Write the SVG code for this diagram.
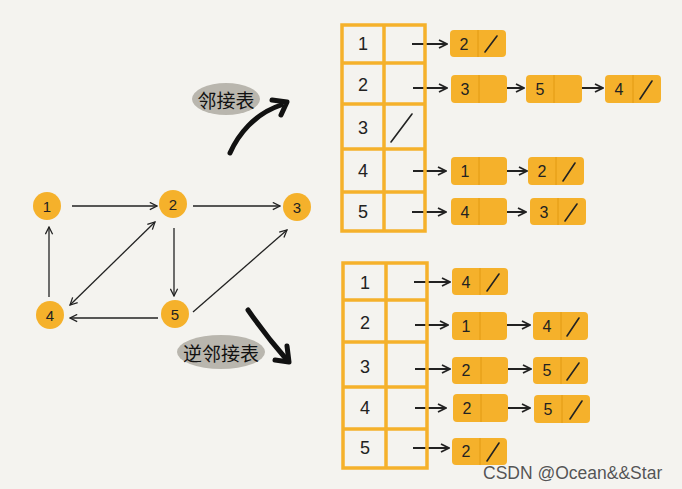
<svg xmlns="http://www.w3.org/2000/svg" width="682" height="489" viewBox="0 0 682 489">
<style>
.bg{fill:#f4f3ef}
.gn{fill:#f5b12b}
.gt{font-family:"Liberation Sans",Arial,sans-serif;font-size:15px;fill:#222;text-anchor:middle;dominant-baseline:central}
.e{stroke:#222;stroke-width:1.3;fill:none}
.tbl{fill:none;stroke:#f5b12b;stroke-width:3.5}
.tt{font-family:"Liberation Sans",Arial,sans-serif;font-size:18px;fill:#222;text-anchor:middle;dominant-baseline:central}
.ln{fill:#f5b12b}
.dv{stroke:#e29a12;stroke-width:1}
.lt{font-family:"Liberation Sans",Arial,sans-serif;font-size:16px;fill:#222;text-anchor:middle;dominant-baseline:central}
.sl{stroke:#222;stroke-width:1.6;fill:none;stroke-linecap:round}
.la{stroke:#222;stroke-width:2;fill:none}
.blob{fill:#b9b6ae}
.cn{font-family:"Noto Sans CJK SC",sans-serif;font-size:19px;fill:#111;text-anchor:middle;dominant-baseline:central}
.big{stroke:#111;stroke-width:5;fill:none;stroke-linecap:round;stroke-linejoin:round}
.wm{font-family:"Liberation Sans",Arial,sans-serif;font-size:17.5px;fill:#555;stroke:#fff;stroke-width:0.4;paint-order:stroke}
</style>
<defs>
<marker id="ah" viewBox="0 0 10 10" refX="9" refY="5" markerWidth="9" markerHeight="9" markerUnits="userSpaceOnUse" orient="auto-start-reverse">
<path d="M1,1 L9,5 L1,9" fill="none" stroke="#222" stroke-width="1.4"/>
</marker>
<marker id="ah2" viewBox="0 0 10 10" refX="9" refY="5" markerWidth="10" markerHeight="10" markerUnits="userSpaceOnUse" orient="auto">
<path d="M1,1 L9,5 L1,9" fill="none" stroke="#222" stroke-width="1.8"/>
</marker>
</defs>
<rect class="bg" x="0" y="0" width="682" height="489"/>

<g id="connectors">
<line class="e" x1="72" y1="206" x2="157" y2="206" marker-end="url(#ah)"/>
<line class="e" x1="193" y1="206" x2="280" y2="206" marker-end="url(#ah)"/>
<line class="e" x1="174" y1="228" x2="174" y2="296" marker-end="url(#ah)"/>
<line class="e" x1="49" y1="297" x2="49" y2="227" marker-end="url(#ah)"/>
<line class="e" x1="70" y1="305" x2="155" y2="222" marker-start="url(#ah)" marker-end="url(#ah)"/>
<line class="e" x1="193" y1="312" x2="287" y2="230" marker-end="url(#ah)"/>
<line class="e" x1="158" y1="318" x2="70" y2="318" marker-end="url(#ah)"/>
<!-- top list arrows -->
<line class="la" x1="412" y1="44" x2="447" y2="44" marker-end="url(#ah2)"/>
<line class="la" x1="413" y1="88" x2="447" y2="88" marker-end="url(#ah2)"/>
<line class="la" x1="498" y1="88" x2="524" y2="88" marker-end="url(#ah2)"/>
<line class="la" x1="573" y1="88" x2="603" y2="88" marker-end="url(#ah2)"/>
<line class="la" x1="413" y1="171" x2="446" y2="171" marker-end="url(#ah2)"/>
<line class="la" x1="500" y1="171" x2="527" y2="171" marker-end="url(#ah2)"/>
<line class="la" x1="412" y1="212" x2="446" y2="212" marker-end="url(#ah2)"/>
<line class="la" x1="500" y1="212" x2="526" y2="212" marker-end="url(#ah2)"/>
<!-- bottom list arrows -->
<line class="la" x1="414" y1="282" x2="450" y2="282" marker-end="url(#ah2)"/>
<line class="la" x1="415" y1="325" x2="448" y2="325" marker-end="url(#ah2)"/>
<line class="la" x1="502" y1="325" x2="530" y2="325" marker-end="url(#ah2)"/>
<line class="la" x1="415" y1="369" x2="450" y2="369" marker-end="url(#ah2)"/>
<line class="la" x1="502" y1="369" x2="531" y2="369" marker-end="url(#ah2)"/>
<line class="la" x1="415" y1="408" x2="446" y2="408" marker-end="url(#ah2)"/>
<line class="la" x1="502" y1="408" x2="530" y2="408" marker-end="url(#ah2)"/>
<line class="la" x1="413" y1="448" x2="449" y2="448" marker-end="url(#ah2)"/>
<!-- big arrows -->
<path class="big" d="M230,153 C238,135 254,114 281,105"/>
<path class="big" d="M272,100 L287,102 L281,115"/>
<path class="big" d="M248,310 C262,330 274,345 287,360"/>
<path class="big" d="M287,346 L289,362 L275,360"/>
</g>

<g id="g1"><circle class="gn" cx="47" cy="206" r="14"/><text class="gt" x="47" y="206">1</text></g>
<g id="g2"><circle class="gn" cx="173" cy="204" r="14"/><text class="gt" x="173" y="204">2</text></g>
<g id="g3"><circle class="gn" cx="297" cy="207" r="14"/><text class="gt" x="297" y="207">3</text></g>
<g id="g4"><circle class="gn" cx="50" cy="315" r="14"/><text class="gt" x="50" y="315">4</text></g>
<g id="g5"><circle class="gn" cx="175" cy="314" r="14"/><text class="gt" x="175" y="314">5</text></g>

<g id="label-adj"><ellipse class="blob" cx="226" cy="99" rx="34" ry="16"/><text class="cn" x="226" y="99">邻接表</text></g>
<g id="label-inv"><ellipse class="blob" cx="221" cy="352" rx="44" ry="17"/><text class="cn" x="221" y="352">逆邻接表</text></g>

<g id="table-adj">
<rect class="tbl" x="342" y="25" width="83" height="206"/>
<line class="tbl" x1="384" y1="25" x2="384" y2="231"/>
<line class="tbl" x1="342" y1="63" x2="425" y2="63"/>
<line class="tbl" x1="342" y1="104" x2="425" y2="104"/>
<line class="tbl" x1="342" y1="149" x2="425" y2="149"/>
<line class="tbl" x1="342" y1="192" x2="425" y2="192"/>
<text class="tt" x="363" y="44">1</text>
<text class="tt" x="363" y="85">2</text>
<text class="tt" x="363" y="128">3</text>
<text class="tt" x="363" y="171">4</text>
<text class="tt" x="363" y="212">5</text>
<line class="sl" x1="391" y1="142" x2="412" y2="114"/>
</g>

<g id="adj-1-2"><rect class="ln" x="450" y="30" width="56" height="27" rx="4"/><line class="dv" x1="478" y1="30" x2="478" y2="57"/><text class="lt" x="464" y="44">2</text><line class="sl" x1="485" y1="52" x2="497" y2="36"/></g>
<g id="adj-2-3"><rect class="ln" x="451" y="75" width="56" height="28" rx="4"/><line class="dv" x1="479" y1="75" x2="479" y2="103"/><text class="lt" x="465" y="89">3</text></g>
<g id="adj-2-5"><rect class="ln" x="526" y="75" width="56" height="28" rx="4"/><line class="dv" x1="554" y1="75" x2="554" y2="103"/><text class="lt" x="540" y="89">5</text></g>
<g id="adj-2-4"><rect class="ln" x="605" y="75" width="56" height="28" rx="4"/><line class="dv" x1="633" y1="75" x2="633" y2="103"/><text class="lt" x="619" y="89">4</text><line class="sl" x1="640" y1="99" x2="652" y2="81"/></g>
<g id="adj-4-1"><rect class="ln" x="451" y="157" width="56" height="28" rx="4"/><line class="dv" x1="479" y1="157" x2="479" y2="185"/><text class="lt" x="465" y="171">1</text></g>
<g id="adj-4-2"><rect class="ln" x="528" y="157" width="56" height="28" rx="4"/><line class="dv" x1="556" y1="157" x2="556" y2="185"/><text class="lt" x="542" y="171">2</text><line class="sl" x1="563" y1="181" x2="575" y2="163"/></g>
<g id="adj-5-4"><rect class="ln" x="451" y="198" width="56" height="27" rx="4"/><line class="dv" x1="479" y1="198" x2="479" y2="225"/><text class="lt" x="465" y="212">4</text></g>
<g id="adj-5-3"><rect class="ln" x="530" y="198" width="56" height="27" rx="4"/><line class="dv" x1="558" y1="198" x2="558" y2="225"/><text class="lt" x="544" y="212">3</text><line class="sl" x1="565" y1="221" x2="577" y2="204"/></g>

<g id="table-inv">
<rect class="tbl" x="343" y="263" width="84" height="205"/>
<line class="tbl" x1="386" y1="263" x2="386" y2="468"/>
<line class="tbl" x1="343" y1="300" x2="427" y2="300"/>
<line class="tbl" x1="343" y1="342" x2="427" y2="342"/>
<line class="tbl" x1="343" y1="387" x2="427" y2="387"/>
<line class="tbl" x1="343" y1="429" x2="427" y2="429"/>
<text class="tt" x="365" y="283">1</text>
<text class="tt" x="365" y="323">2</text>
<text class="tt" x="365" y="367">3</text>
<text class="tt" x="365" y="408">4</text>
<text class="tt" x="365" y="448">5</text>
</g>

<g id="inv-1-4"><rect class="ln" x="452" y="268" width="56" height="27" rx="4"/><line class="dv" x1="480" y1="268" x2="480" y2="295"/><text class="lt" x="466" y="282">4</text><line class="sl" x1="487" y1="291" x2="499" y2="274"/></g>
<g id="inv-2-1"><rect class="ln" x="452" y="312" width="55" height="28" rx="4"/><line class="dv" x1="480" y1="312" x2="480" y2="340"/><text class="lt" x="466" y="326">1</text></g>
<g id="inv-2-4"><rect class="ln" x="533" y="312" width="55" height="28" rx="4"/><line class="dv" x1="561" y1="312" x2="561" y2="340"/><text class="lt" x="547" y="326">4</text><line class="sl" x1="567" y1="336" x2="579" y2="318"/></g>
<g id="inv-3-2"><rect class="ln" x="452" y="357" width="56" height="27" rx="4"/><line class="dv" x1="481" y1="357" x2="481" y2="384"/><text class="lt" x="466" y="370">2</text></g>
<g id="inv-3-5"><rect class="ln" x="533" y="357" width="55" height="27" rx="4"/><line class="dv" x1="561" y1="357" x2="561" y2="384"/><text class="lt" x="547" y="370">5</text><line class="sl" x1="567" y1="380" x2="579" y2="363"/></g>
<g id="inv-4-2"><rect class="ln" x="453" y="394" width="55" height="28" rx="4"/><line class="dv" x1="481" y1="394" x2="481" y2="422"/><text class="lt" x="467" y="408">2</text></g>
<g id="inv-4-5"><rect class="ln" x="534" y="395" width="56" height="28" rx="4"/><line class="dv" x1="562" y1="395" x2="562" y2="423"/><text class="lt" x="548" y="409">5</text><line class="sl" x1="570" y1="419" x2="582" y2="401"/></g>
<g id="inv-5-2"><rect class="ln" x="452" y="438" width="55" height="27" rx="4"/><line class="dv" x1="480" y1="438" x2="480" y2="465"/><text class="lt" x="466" y="451">2</text><line class="sl" x1="487" y1="461" x2="499" y2="443"/></g>

<text class="wm" x="483" y="479">CSDN @Ocean&amp;&amp;Star</text>
</svg>
